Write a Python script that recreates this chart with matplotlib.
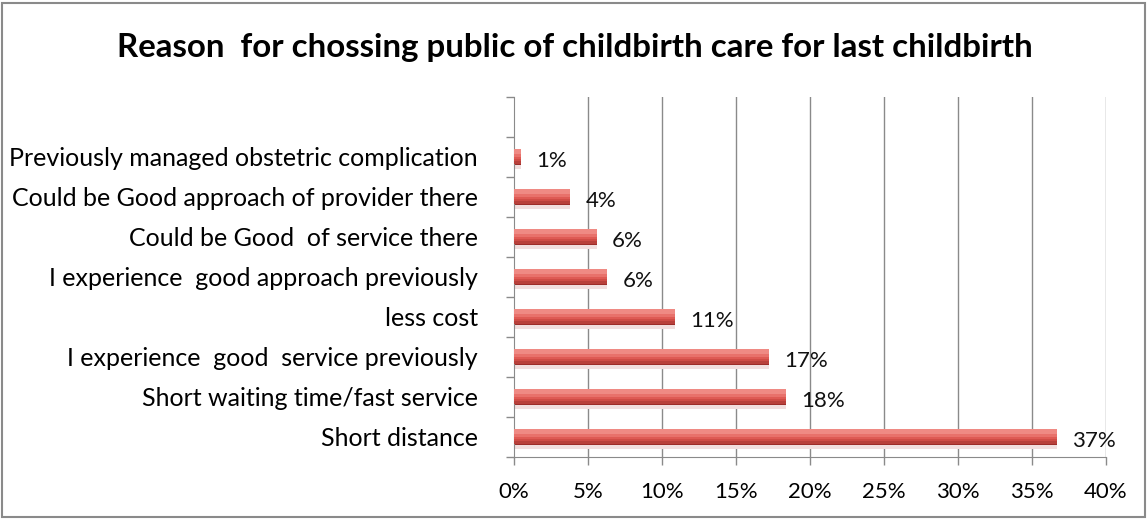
import matplotlib.pyplot as plt
import numpy as np
from matplotlib.patches import Rectangle

plt.rcParams['font.family'] = ['Lato', 'DejaVu Sans']

# data, bottom to top
reasons = ['Short distance',
           'Short waiting time/fast service',
           'I experience  good  service previously',
           'less cost',
           'I experience  good approach previously',
           'Could be Good  of service there',
           'Could be Good approach of provider there',
           'Previously managed obstetric complication']
shares = [36.7, 18.4, 17.2, 10.9, 6.3, 5.6, 3.8, 0.5]
share_labels = ['37%', '18%', '17%', '11%', '6%', '6%', '4%', '1%']
x_ticks = [0, 5, 10, 15, 20, 25, 30, 35, 40]

fig = plt.figure(figsize=(11.48, 5.19), dpi=100)
ax = fig.add_axes([514 / 1148, 1 - 457 / 519, 592 / 1148, 360 / 519])

y = np.arange(len(reasons))

# gridlines
for xt in x_ticks[1:]:
    ax.axvline(xt, color='#8a8a8a', linewidth=1.0, zorder=0)

# bars: soft shadow then a top-to-bottom shading, light on top, dark below
ax.barh(y - 0.05, shares, height=0.48, color='#f1dede', zorder=1)
ax.barh(y, shares, height=0.42, color='#9c2c29', zorder=2)
shade = ['#b8403b', '#cf4c46', '#de5a54', '#e8716b', '#ef8a84']
for k, c in enumerate(shade):
    h = 0.36 - 0.06 * k
    ax.barh(y + 0.21 - 0.02 - h / 2, shares, height=h, color=c, zorder=3 + k)

for yi, v, lab in zip(y, shares, share_labels):
    ax.annotate(lab, (v, yi), xytext=(11, -3), textcoords='offset points',
                ha='left', va='center', fontsize=16, color='#111111')

ax.set_xlim(0, 40)
ax.set_ylim(-0.5, len(reasons) + 0.5)
ax.set_xticks(x_ticks)
ax.set_xticklabels([f'{t}%' for t in x_ticks], fontsize=16)
ax.set_yticks(y)
ax.set_yticklabels(reasons, fontsize=18)
ax.set_yticks(np.arange(-0.5, len(reasons) + 1), minor=True)

ax.tick_params(axis='y', which='major', length=0, pad=26)
ax.tick_params(axis='y', which='minor', length=6, color='#8a8a8a', width=1.0)
ax.tick_params(axis='x', length=6, color='#8a8a8a', width=1.0, pad=12)

ax.spines['right'].set_color('none')
ax.spines['top'].set_color('none')
ax.spines['left'].set_color('#8a8a8a')
ax.spines['bottom'].set_color('#8a8a8a')

fig.text(575 / 1148, 1 - 47 / 519,
         'Reason  for chossing public of childbirth care for last childbirth',
         ha='center', va='center', fontsize=23.8, fontweight='bold')

fig.patches.append(Rectangle((2 / 1148, 2 / 519), 1143 / 1148, 514 / 519,
                             transform=fig.transFigure, fill=False,
                             edgecolor='#8a8a8a', linewidth=1.5))

fig.savefig('out.png', dpi=100)
